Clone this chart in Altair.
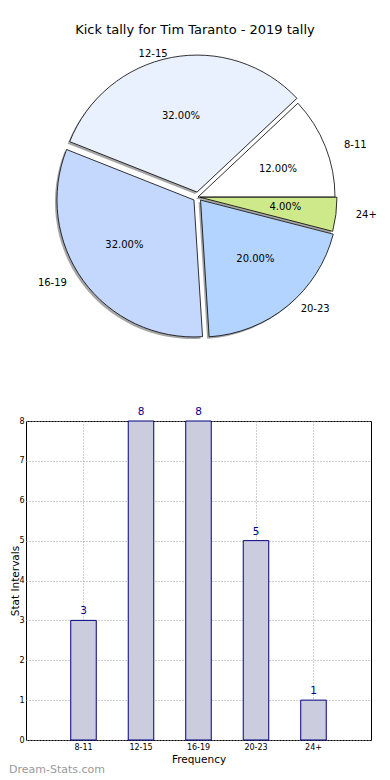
import altair as alt
import pandas as pd

# ---------------- data ----------------
CATEGORIES = ["8-11", "12-15", "16-19", "20-23", "24+"]
COUNTS = [3, 8, 8, 5, 1]
TITLE = "Kick tally for Tim Taranto - 2019 tally"
X_TITLE = "Frequency"
Y_TITLE = "Stat Intervals"
WATERMARK = "Dream-Stats.com"
Y_TICKS = [0, 1, 2, 3, 4, 5, 6, 7, 8]

# ---------------- styles ----------------
PIE_COLORS = ["#ffffff", "#e9f0fe", "#c4d8fe", "#b3d4fe", "#cde98a"]
EXPLODE_PX = [0, 5, 5, 4, 2]
BAR_FILL = "#ccccdf"
BAR_STROKE = "#000080"
FONT = "DejaVu Sans"

W = 345
PIE_H = 413
BAR_H = 319
CX, CY, R = 172, 189, 137
PCT_RX, PCT_RY = 86, 77
LBL_RX, LBL_RY = 157, 141

pie_df = pd.DataFrame({
    "cat": CATEGORIES,
    "count": COUNTS,
    "order": list(range(len(CATEGORIES))),
    "explode": EXPLODE_PX,
})

color = alt.Color("cat:N", scale=alt.Scale(domain=CATEGORIES, range=PIE_COLORS), legend=None)

pie_base = (
    alt.Chart(pie_df)
    .transform_joinaggregate(total="sum(count)")
    .transform_window(cum="sum(count)", sort=[alt.SortField("order")], frame=[None, 0])
    .transform_calculate(
        a_start="PI/2 - 2*PI*(datum.cum - datum.count)/datum.total",
        a_end="PI/2 - 2*PI*datum.cum/datum.total",
    )
    .transform_calculate(mid="(datum.a_start + datum.a_end)/2")
    .transform_calculate(
        cx=f"{CX} + datum.explode*sin(datum.mid)",
        cy=f"{CY} - datum.explode*cos(datum.mid)",
        pct="format(datum.count/datum.total*100, '.2f') + '%'",
    )
    .transform_calculate(
        px=f"datum.cx + {PCT_RX}*sin(datum.mid)",
        py=f"datum.cy - {PCT_RY}*cos(datum.mid)",
        lx=f"datum.cx + {LBL_RX}*sin(datum.mid)",
        ly=f"datum.cy - {LBL_RY}*cos(datum.mid)",
        right="sin(datum.mid) >= 0",
    )
)

arc_enc = dict(
    theta=alt.Theta("a_end:Q", scale=None),
    theta2="a_start:Q",
    x=alt.X("cx:Q", scale=None),
    y=alt.Y("cy:Q", scale=None),
)

shadow = pie_base.mark_arc(radius=R, fill="#4d4d4d", opacity=0.5, xOffset=-2, yOffset=2).encode(**arc_enc)
slices = pie_base.mark_arc(radius=R, stroke="black", strokeWidth=0.8).encode(color=color, **arc_enc)

pct_text = pie_base.mark_text(font=FONT, fontSize=10, color="black", baseline="middle").encode(
    x=alt.X("px:Q", scale=None), y=alt.Y("py:Q", scale=None), text="pct:N"
)
lbl_right = pie_base.transform_filter("datum.right").mark_text(
    font=FONT, fontSize=10, color="black", align="left", baseline="middle"
).encode(x=alt.X("lx:Q", scale=None), y=alt.Y("ly:Q", scale=None), text="cat:N")
lbl_left = pie_base.transform_filter("!datum.right").mark_text(
    font=FONT, fontSize=10, color="black", align="right", baseline="middle"
).encode(x=alt.X("lx:Q", scale=None), y=alt.Y("ly:Q", scale=None), text="cat:N")

title = alt.Chart(pd.DataFrame({"t": [TITLE]})).mark_text(
    font=FONT, fontSize=13, color="black", baseline="middle"
).encode(text="t:N", x=alt.value(169), y=alt.value(22))

pie = alt.layer(shadow, slices, pct_text, lbl_right, lbl_left, title).properties(
    width=W, height=PIE_H, view=alt.ViewBackground(stroke=None)
)

# ---------------- bar chart ----------------
bar_df = pd.DataFrame({"cat": CATEGORIES, "count": COUNTS})

x_enc = alt.X(
    "cat:N",
    sort=CATEGORIES,
    scale=alt.Scale(paddingInner=0.556, paddingOuter=0.778),
    axis=alt.Axis(
        title=X_TITLE, labelAngle=0, labelFontSize=8, labelPadding=3, ticks=False, domain=False,
        grid=True, gridDash=[1, 2], gridColor="#a0a0a0", bandPosition=0.5,
        titleFontSize=10.5, titleFontWeight="normal", titlePadding=3, labelColor="black", titleColor="black",
    ),
)
y_enc = alt.Y(
    "count:Q",
    scale=alt.Scale(domain=[0, 8], nice=False),
    axis=alt.Axis(
        title=Y_TITLE, values=Y_TICKS, labelOverlap=False, labelFontSize=8, labelPadding=2,
        ticks=False, domain=False, grid=True, gridDash=[1, 2], gridColor="#a0a0a0",
        titleFontSize=10.5, titleFontWeight="normal", titleX=-8, titleBaseline="alphabetic",
        labelColor="black", titleColor="black",
    ),
)

bars = alt.Chart(bar_df).mark_bar(fill=BAR_FILL, stroke=BAR_STROKE, strokeWidth=1).encode(x=x_enc, y=y_enc)
values = alt.Chart(bar_df).mark_text(
    font=FONT, fontSize=10.5, color="#00008b", baseline="middle", dy=-9
).encode(x=x_enc, y=y_enc, text="count:Q")
mark_wm = alt.Chart(pd.DataFrame({"w": [WATERMARK]})).mark_text(
    font=FONT, fontSize=11, color="#9a9a9a", align="left", baseline="middle"
).encode(text="w:N", x=alt.value(-17), y=alt.value(349))

bar = alt.layer(bars, values, mark_wm).properties(width=W, height=BAR_H)

chart = (
    alt.vconcat(pie, bar, spacing=0, bounds="flush")
    .properties(padding={"left": 0, "top": 0, "right": 0, "bottom": 0})
    .configure(font=FONT)
    .configure_view(stroke="black", strokeWidth=1)
)

chart.save("out.html", embed_options={"renderer": "svg", "actions": False})
